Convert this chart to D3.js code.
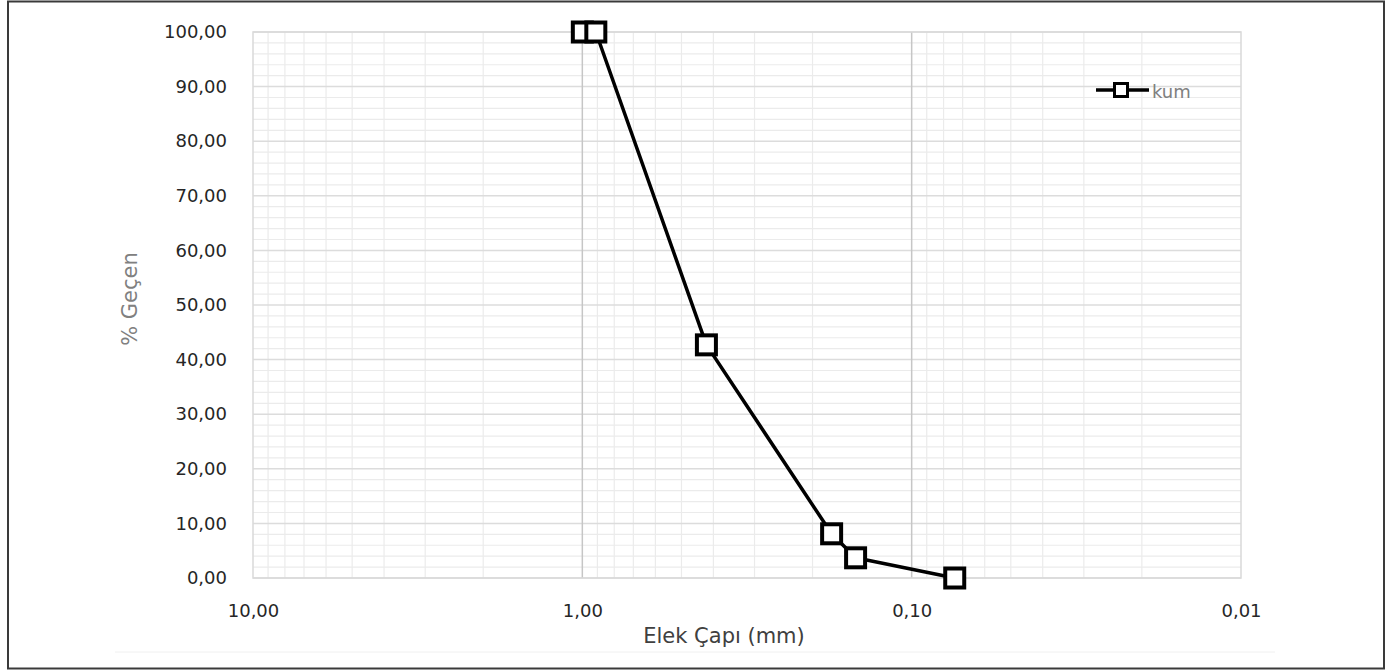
<!DOCTYPE html>
<html>
<head>
<meta charset="utf-8">
<script src="https://cdn.jsdelivr.net/npm/d3@7"></script>
<style>
  body { margin: 0; background: #fff; }
  svg { display: block; font-family: "DejaVu Sans", sans-serif; }
</style>
</head>
<body>
<div id="chart"></div>
<script>
// sieve sizes (mm) and % passing
var sizes = [1.0, 0.91, 0.42, 0.175, 0.148, 0.074]
var passing = [100, 100, 42.7, 8.1, 3.7, 0]
var seriesName = "kum"

// axis ticks
var xTicks = [10, 1, 0.1, 0.01]
var yTicks = [0, 10, 20, 30, 40, 50, 60, 70, 80, 90, 100]
var yMinor = [2, 4, 6, 8, 12, 14, 16, 18, 22, 24, 26, 28, 32, 34, 36, 38, 42, 44, 46, 48,
              52, 54, 56, 58, 62, 64, 66, 68, 72, 74, 76, 78, 82, 84, 86, 88, 92, 94, 96, 98]

var W = 1388, H = 670
var plot = {left: 253, right: 1241, top: 32, bottom: 578}

var svg = d3.select("#chart").append("svg")
    .attr("width", W)
    .attr("height", H)

// outer frame
svg.append("rect")
    .attr("x", 8).attr("y", 1.5)
    .attr("width", 1376).attr("height", 667)
    .attr("fill", "#fff")
    .attr("stroke", "#3a3a3a")
    .attr("stroke-width", 2)

// faint line under the chart
svg.append("line")
    .attr("x1", 115).attr("x2", 1275)
    .attr("y1", 652).attr("y2", 652)
    .attr("stroke", "#f0f0f0")

var x = d3.scaleLog()
    .domain([10, 0.01])
    .range([plot.left, plot.right])

var y = d3.scaleLinear()
    .domain([0, 100])
    .range([plot.bottom, plot.top])

var loc = d3.formatLocale({decimal: ",", thousands: ".", grouping: [3], currency: ["", ""]})
var fmt = loc.format(".2f")

// minor grid
var xMinor = x.ticks().filter(function(d){ return xTicks.indexOf(d) < 0 })
svg.append("g").selectAll("line")
    .data(xMinor)
    .enter().append("line")
    .attr("x1", d => x(d)).attr("x2", d => x(d))
    .attr("y1", plot.top).attr("y2", plot.bottom)
    .attr("stroke", "#ebebeb")
    .attr("stroke-width", 1.2)

svg.append("g").selectAll("line")
    .data(yMinor)
    .enter().append("line")
    .attr("x1", plot.left).attr("x2", plot.right)
    .attr("y1", d => y(d)).attr("y2", d => y(d))
    .attr("stroke", "#ebebeb")
    .attr("stroke-width", 1.2)

// major grid
svg.append("g").selectAll("line")
    .data(yTicks)
    .enter().append("line")
    .attr("x1", plot.left).attr("x2", plot.right)
    .attr("y1", d => y(d)).attr("y2", d => y(d))
    .attr("stroke", "#dcdcdc")
    .attr("stroke-width", 1.5)

svg.append("g").selectAll("line")
    .data(xTicks.slice(1, 3))
    .enter().append("line")
    .attr("x1", d => x(d)).attr("x2", d => x(d))
    .attr("y1", plot.top).attr("y2", plot.bottom)
    .attr("stroke", "#c6c6c6")
    .attr("stroke-width", 1.5)

// plot area border
svg.append("rect")
    .attr("x", plot.left).attr("y", plot.top)
    .attr("width", plot.right - plot.left)
    .attr("height", plot.bottom - plot.top)
    .attr("fill", "none")
    .attr("stroke", "#d9d9d9")
    .attr("stroke-width", 1.5)

// axes
var xAxis = svg.append("g")
    .attr("transform", "translate(0," + plot.bottom + ")")
    .call(d3.axisBottom(x).tickValues(xTicks).tickFormat(fmt).tickSize(0).tickPadding(26))
xAxis.select(".domain").remove()
xAxis.selectAll("text")
    .attr("font-size", 18)
    .attr("font-family", "DejaVu Sans")
    .attr("fill", "#262626")

var yAxis = svg.append("g")
    .attr("transform", "translate(" + (plot.left - 26) + ",0)")
    .call(d3.axisLeft(y).tickValues(yTicks).tickFormat(fmt).tickSize(0).tickPadding(0))
yAxis.select(".domain").remove()
yAxis.selectAll("text")
    .attr("font-size", 18)
    .attr("font-family", "DejaVu Sans")
    .attr("fill", "#262626")

// axis titles
svg.append("text")
    .attr("x", 724).attr("y", 643)
    .attr("text-anchor", "middle")
    .attr("font-size", 21)
    .attr("fill", "#404040")
    .text("Elek Çapı (mm)")

svg.append("text")
    .attr("transform", "translate(137,299) rotate(-90)")
    .attr("text-anchor", "middle")
    .attr("font-size", 21)
    .attr("fill", "#808080")
    .text("% Geçen")

// series line
var pts = sizes.map(function(d, i){ return [d, passing[i]] })
var line = d3.line()
    .x(d => x(d[0]))
    .y(d => y(d[1]))

svg.append("path")
    .datum(pts)
    .attr("d", line)
    .attr("fill", "none")
    .attr("stroke", "#000")
    .attr("stroke-width", 3.5)
    .attr("stroke-linejoin", "round")

var side = 19
svg.append("g").selectAll("rect")
    .data(pts)
    .enter().append("rect")
    .attr("x", d => x(d[0]) - side / 2)
    .attr("y", d => y(d[1]) - side / 2)
    .attr("width", side)
    .attr("height", side)
    .attr("fill", "#fff")
    .attr("stroke", "#000")
    .attr("stroke-width", 4)

// legend
var lg = svg.append("g").attr("transform", "translate(1096,90)")
lg.append("line")
    .attr("x1", 0).attr("x2", 53)
    .attr("y1", 0).attr("y2", 0)
    .attr("stroke", "#000")
    .attr("stroke-width", 3.5)
lg.append("rect")
    .attr("x", 25 - 6.5).attr("y", -6.5)
    .attr("width", 13).attr("height", 13)
    .attr("fill", "#fff")
    .attr("stroke", "#000")
    .attr("stroke-width", 3)
lg.append("text")
    .attr("x", 56).attr("y", 8)
    .attr("font-size", 18)
    .attr("fill", "#808080")
    .text(seriesName)
</script>
</body>
</html>
